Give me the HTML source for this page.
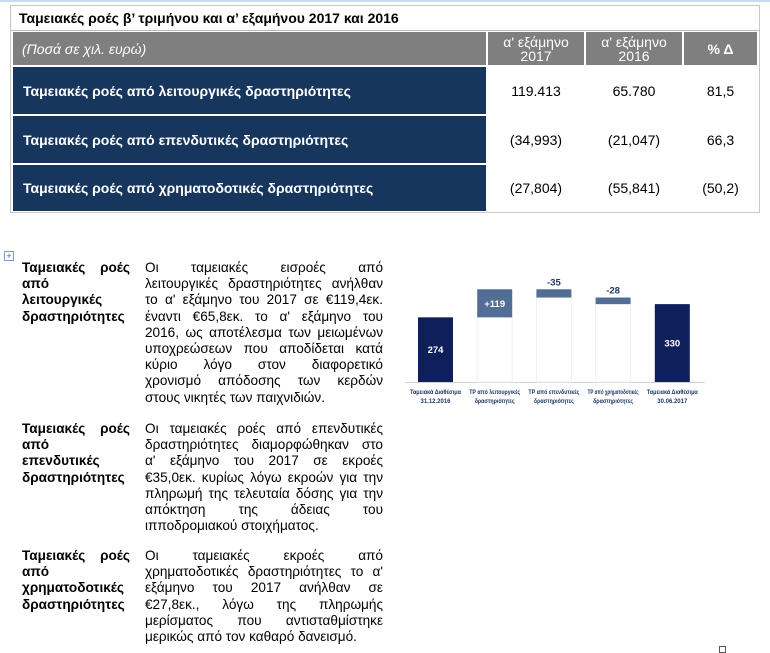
<!DOCTYPE html>
<html><head><meta charset="utf-8">
<style>
body{margin:0;width:770px;height:652px;background:#fff;position:relative;overflow:hidden;font-family:"Liberation Sans","DejaVu Sans",sans-serif;}
#tbl{position:absolute;left:10px;top:5px;width:750px;height:208px;border:1px solid #c8c8c8;box-sizing:border-box;}
.c{position:absolute;box-sizing:border-box;display:flex;align-items:center;}
.title{left:0;top:0;width:748px;height:25px;font-weight:bold;font-size:14px;padding-left:8px;color:#000;border-bottom:1px solid #bbb;}
.hdr{background:#7f7f7f;color:#fff;font-size:14px;}
.lab{background:#17365d;color:#fff;font-weight:bold;font-size:14px;padding-left:10px;}
.num{color:#000;font-size:14px;justify-content:center;background:#fff;}
.txt{position:absolute;font-size:13.6px;line-height:16.2px;color:#000;}
.txt div{text-align:justify;text-align-last:justify;white-space:nowrap;}
.txt div.l{text-align-last:left;}
.b{font-weight:bold;}
</style></head><body>
<div id="tbl">
  <div class="c title">Ταμειακές ροές β’ τριμήνου και α’ εξαμήνου 2017 και 2016</div>
  <div class="c hdr" style="left:2px;top:26px;width:473px;height:33px;padding-left:9px;font-style:italic;">(Ποσά σε χιλ. ευρώ)</div>
  <div class="c hdr" style="left:477px;top:26px;width:96px;height:33px;justify-content:center;text-align:center;line-height:14px;">α' εξάμηνο<br>2017</div>
  <div class="c hdr" style="left:575px;top:26px;width:96px;height:33px;justify-content:center;text-align:center;line-height:14px;">α' εξάμηνο<br>2016</div>
  <div class="c hdr" style="left:673px;top:26px;width:73px;height:33px;justify-content:center;font-weight:bold;">% Δ</div>

  <div class="c lab" style="left:2px;top:61px;width:473px;height:47px;">Ταμειακές ροές από λειτουργικές δραστηριότητες</div>
  <div class="c num" style="left:477px;top:61px;width:96px;height:47px;">119.413</div>
  <div class="c num" style="left:575px;top:61px;width:96px;height:47px;">65.780</div>
  <div class="c num" style="left:673px;top:61px;width:73px;height:47px;">81,5</div>

  <div class="c lab" style="left:2px;top:110px;width:473px;height:47px;">Ταμειακές ροές από επενδυτικές δραστηριότητες</div>
  <div class="c num" style="left:477px;top:110px;width:96px;height:47px;">(34,993)</div>
  <div class="c num" style="left:575px;top:110px;width:96px;height:47px;">(21,047)</div>
  <div class="c num" style="left:673px;top:110px;width:73px;height:47px;">66,3</div>

  <div class="c lab" style="left:2px;top:159px;width:473px;height:46px;">Ταμειακές ροές από χρηματοδοτικές δραστηριότητες</div>
  <div class="c num" style="left:477px;top:159px;width:96px;height:46px;">(27,804)</div>
  <div class="c num" style="left:575px;top:159px;width:96px;height:46px;">(55,841)</div>
  <div class="c num" style="left:673px;top:159px;width:73px;height:46px;">(50,2)</div>
</div>
<div style="position:absolute;left:0;top:0;width:770px;height:2px;background:#c9d9ee;"></div>

<div style="position:absolute;left:4px;top:251px;width:8px;height:8px;border:1px solid #7a9cc8;font-size:9px;line-height:8px;text-align:center;color:#3a66a8;">+</div>
<div style="position:absolute;left:719px;top:646px;width:5px;height:5px;border:1px solid #555;"></div>

<div class="txt b" style="left:22px;top:260px;width:108px;"><div>Ταμειακές ροές</div><div class="l">από</div><div class="l">λειτουργικές</div><div class="l">δραστηριότητες</div></div>
<div class="txt" style="left:145px;top:260px;width:238px;">
<div>Οι ταμειακές εισροές από</div><div>λειτουργικές δραστηριότητες ανήλθαν</div><div>το α' εξάμηνο του 2017 σε €119,4εκ.</div><div>έναντι €65,8εκ. το α' εξάμηνο του</div><div>2016, ως αποτέλεσμα των μειωμένων</div><div>υποχρεώσεων που αποδίδεται κατά</div><div>κύριο λόγο στον διαφορετικό</div><div>χρονισμό απόδοσης των κερδών</div><div class="l">στους νικητές των παιχνιδιών.</div></div>

<div class="txt b" style="left:22px;top:421px;width:108px;"><div>Ταμειακές ροές</div><div class="l">από</div><div class="l">επενδυτικές</div><div class="l">δραστηριότητες</div></div>
<div class="txt" style="left:145px;top:421px;width:238px;">
<div>Οι ταμειακές ροές από επενδυτικές</div><div>δραστηριότητες διαμορφώθηκαν στο</div><div>α' εξάμηνο του 2017 σε εκροές</div><div>€35,0εκ. κυρίως λόγω εκροών για την</div><div>πληρωμή της τελευταία δόσης για την</div><div>απόκτηση της άδειας του</div><div class="l">ιπποδρομιακού στοιχήματος.</div></div>

<div class="txt b" style="left:22px;top:548px;width:108px;"><div>Ταμειακές ροές</div><div class="l">από</div><div class="l">χρηματοδοτικές</div><div class="l">δραστηριότητες</div></div>
<div class="txt" style="left:145px;top:548px;width:238px;">
<div>Οι ταμειακές εκροές από</div><div>χρηματοδοτικές δραστηριότητες το α'</div><div>εξάμηνο του 2017 ανήλθαν σε</div><div>€27,8εκ., λόγω της πληρωμής</div><div>μερίσματος που αντισταθμίστηκε</div><div class="l">μερικώς από τον καθαρό δανεισμό.</div></div>

<svg id="wf" style="position:absolute;left:400px;top:260px;" width="310" height="150"></svg>
<script>
const categories1=["Ταμειακά Διαθέσιμα","ΤΡ από λειτουργικές","ΤΡ από επενδυτικές","ΤΡ από χρηματοδοτικές","Ταμειακά Διαθέσιμα"];
const categories2=["31.12.2016","δραστηριότητες","δραστηριότητες","δραστηριότητες","30.06.2017"];
const values=[274,119,-35,-28,330];
const isTotal=[true,false,false,false,true];
const valueLabels=["274","+119","-35","-28","330"];
(function(){
const svg=document.getElementById('wf');const NS="http://www.w3.org/2000/svg";
const baseY=122, scale=0.236, x0=18, step=59.2, bw=35;
const y=v=>baseY-v*scale;
const xc=i=>x0+i*step+bw/2;
function mk(t,a){const e=document.createElementNS(NS,t);for(const k in a)e.setAttribute(k,a[k]);svg.appendChild(e);return e;}
const ax=mk('line',{x1:5,x2:305,y1:baseY+0.5,y2:baseY+0.5,stroke:'#d0d0d0','stroke-width':1});

let run=0;
values.forEach((v,i)=>{
  let lo,hi;
  if(isTotal[i]){lo=0;hi=v;run=v;}else{const s=run;run+=v;lo=Math.min(s,run);hi=Math.max(s,run);}
  if(!isTotal[i]){
    const ghost=mk('rect',{x:xc(i)-bw/2,y:y(lo),width:bw,height:y(0)-y(lo),fill:'#fff',stroke:'#f0f0f0'});
    
  }
  const r=mk('rect',{x:xc(i)-bw/2,y:y(hi),width:bw,height:Math.max(1,y(lo)-y(hi)),fill:isTotal[i]?'#0f1f5c':'#536e96'});
  
  const inside=isTotal[i]||v>0;
  const ty=(inside?(y(hi)+y(lo))/2+3.5:y(hi)-4);
  const t=mk('text',{x:xc(i),y:ty,'text-anchor':'middle','font-size':9.5,'font-weight':'bold',fill:inside?'#fff':'#1f3864','font-family':'Liberation Sans, sans-serif'});
  t.textContent=valueLabels[i];
  
  const c1=mk('text',{x:xc(i),y:baseY+12,'text-anchor':'middle','font-size':6.2,'font-weight':'bold',fill:'#1f3864','font-family':'Liberation Sans, sans-serif',textLength:51,lengthAdjust:'spacingAndGlyphs'});
  c1.textContent=categories1[i];
  
  const c2=mk('text',{x:xc(i),y:baseY+21,'text-anchor':'middle','font-size':6.2,'font-weight':'bold',fill:'#1f3864','font-family':'Liberation Sans, sans-serif',textLength:i===0||i===4?30:40,lengthAdjust:'spacingAndGlyphs'});
  c2.textContent=categories2[i];
  
});
})();
</script>
</body></html>
